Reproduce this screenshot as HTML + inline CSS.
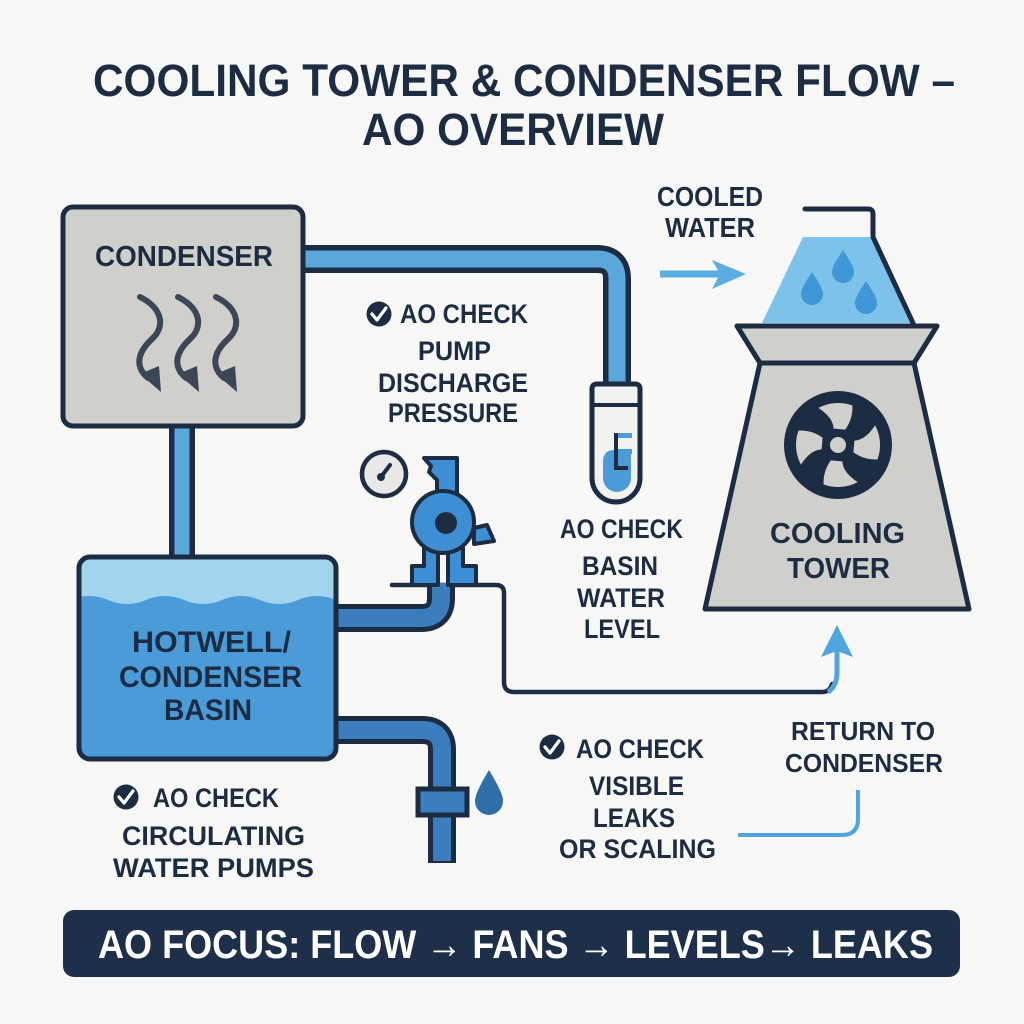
<!DOCTYPE html>
<html>
<head>
<meta charset="utf-8">
<style>
  html,body{margin:0;padding:0;background:#f7f7f5;}
  svg{display:block;}
  text{font-family:"Liberation Sans","DejaVu Sans",sans-serif;font-weight:bold;fill:#1c2d43;}
</style>
</head>
<body>
<svg width="1024" height="1024" viewBox="0 0 1024 1024" xmlns="http://www.w3.org/2000/svg">
  <defs>
    <clipPath id="basinClip"><rect x="80" y="558" width="255" height="200" rx="10"/></clipPath>
  </defs>
  <rect width="1024" height="1024" fill="#f7f7f5"/>

  <!-- Title -->
  <text x="93" y="96" font-size="45" textLength="862" lengthAdjust="spacingAndGlyphs">COOLING TOWER &amp; CONDENSER FLOW –</text>
  <text x="362" y="145" font-size="45" textLength="302" lengthAdjust="spacingAndGlyphs">AO OVERVIEW</text>

  <!-- Upper pipe condenser -> gauge -->
  <path d="M 300 259 H 597 Q 617 259 617 279 V 390" fill="none" stroke="#1c2d43" stroke-width="28"/>
  <path d="M 300 259 H 597 Q 617 259 617 279 V 390" fill="none" stroke="#5aa7dc" stroke-width="17"/>

  <!-- Vertical pipe condenser -> basin -->
  <path d="M 182 420 V 562" fill="none" stroke="#1c2d43" stroke-width="26"/>
  <path d="M 182 420 V 562" fill="none" stroke="#5aa7dc" stroke-width="15"/>

  <!-- Condenser box -->
  <rect x="63" y="207" width="240" height="219" rx="10" fill="#cfcfcc" stroke="#1c2d43" stroke-width="5"/>
  <text x="95" y="266" font-size="29" textLength="178" lengthAdjust="spacingAndGlyphs">CONDENSER</text>
  <!-- squiggle arrows -->
  <g fill="none" stroke="#3b4756" stroke-width="6" stroke-linecap="round">
    <path d="M 140 297 C 162 308 166 326 152 339 C 138 352 134 366 148 378"/>
    <path d="M 178 297 C 200 308 204 326 190 339 C 176 352 172 366 186 378"/>
    <path d="M 216 297 C 238 308 242 326 228 339 C 214 352 210 366 224 378"/>
  </g>
  <g fill="#3b4756">
    <polygon points="140,374 159,366 161,392"/>
    <polygon points="178,374 197,366 199,392"/>
    <polygon points="216,374 235,366 237,392"/>
  </g>

  <!-- Check: pump discharge -->
  <circle cx="379" cy="314" r="12.5" fill="#1c2d43"/>
  <polyline points="372,314 377,320 386,308" fill="none" stroke="#fff" stroke-width="3.2" stroke-linecap="round" stroke-linejoin="round"/>
  <text x="400" y="323" font-size="27" textLength="128" lengthAdjust="spacingAndGlyphs">AO CHECK</text>
  <text x="418" y="360" font-size="27" textLength="73" lengthAdjust="spacingAndGlyphs">PUMP</text>
  <text x="378" y="392" font-size="27" textLength="150" lengthAdjust="spacingAndGlyphs">DISCHARGE</text>
  <text x="388" y="422" font-size="27" textLength="130" lengthAdjust="spacingAndGlyphs">PRESSURE</text>

  <!-- Gauge tube -->
  <path d="M 597 384 H 635 Q 640 384 640 389 V 478 A 24 24 0 0 1 592 478 V 389 Q 592 384 597 384 Z" fill="#f2f2f0" stroke="#1c2d43" stroke-width="5"/>
  <line x1="592" y1="405" x2="640" y2="405" stroke="#1c2d43" stroke-width="4"/>
  <path d="M 603 462 Q 603 450 614 450 L 631 450 L 631 478 A 14 14 0 0 1 603 478 Z" fill="#4a9bd8"/>
  <g fill="#4a9bd8">
    <rect x="617" y="433" width="15" height="5"/>
    <rect x="617" y="449" width="15" height="5"/>
  </g>
  <path d="M 616 433 V 468 H 628" fill="none" stroke="#1c2d43" stroke-width="4"/>

  <!-- Cooled water arrow + label -->
  <text x="657" y="206" font-size="28" textLength="106" lengthAdjust="spacingAndGlyphs">COOLED</text>
  <text x="665" y="237" font-size="28" textLength="90" lengthAdjust="spacingAndGlyphs">WATER</text>
  <line x1="660" y1="274" x2="728" y2="274" stroke="#5aade0" stroke-width="7"/>
  <polygon points="712,260 746,274 712,289 720,274" fill="#5aade0"/>

  <!-- Cooling tower -->
  <polygon points="803,237 873,237 913,323 762,323" fill="#7cc2ea"/>
  <path d="M 805 209 H 868 Q 873 209 873 214 V 237 L 913 323" fill="none" stroke="#1c2d43" stroke-width="5" stroke-linecap="round" stroke-linejoin="round"/>
  <g fill="#3e97d6">
    <path d="M 843 250 C 836 261 832 267 832 272 A 11 11 0 0 0 854 272 C 854 267 850 261 843 250 Z"/>
    <path d="M 812 272 C 805 283 801 289 801 294 A 11 11 0 0 0 823 294 C 823 289 819 283 812 272 Z"/>
    <path d="M 866 281 C 859 292 855 298 855 303 A 11 11 0 0 0 877 303 C 877 298 873 292 866 281 Z"/>
  </g>
  <polygon points="737,326 937,326 914,363 760,363" fill="#cfcfcc" stroke="#1c2d43" stroke-width="5" stroke-linejoin="round"/>
  <polygon points="760,363 914,363 969,609 705,609" fill="#cfcfcc" stroke="#1c2d43" stroke-width="5" stroke-linejoin="round"/>
  <!-- Fan -->
  <circle cx="838" cy="445" r="54" fill="#1c2d43"/>
  <g transform="translate(838 445)" fill="#cfcfcc">
    <path d="M -4.4 -16.4 Q -4.9 -27.6 -19.7 -37.1 A 42 42 0 0 1 14.4 -39.5 Q 15 -26 7.2 -15.4 Z"/>
    <path d="M -4.4 -16.4 Q -4.9 -27.6 -19.7 -37.1 A 42 42 0 0 1 14.4 -39.5 Q 15 -26 7.2 -15.4 Z" transform="rotate(90)"/>
    <path d="M -4.4 -16.4 Q -4.9 -27.6 -19.7 -37.1 A 42 42 0 0 1 14.4 -39.5 Q 15 -26 7.2 -15.4 Z" transform="rotate(180)"/>
    <path d="M -4.4 -16.4 Q -4.9 -27.6 -19.7 -37.1 A 42 42 0 0 1 14.4 -39.5 Q 15 -26 7.2 -15.4 Z" transform="rotate(270)"/>
    <circle cx="0" cy="0" r="11" fill="#cfcfcc" stroke="#1c2d43" stroke-width="6"/>
  </g>
  <text x="770" y="543" font-size="29" textLength="135" lengthAdjust="spacingAndGlyphs">COOLING</text>
  <text x="787" y="578" font-size="29" textLength="103" lengthAdjust="spacingAndGlyphs">TOWER</text>

  <!-- Basin level check text -->
  <text x="560" y="538" font-size="27" textLength="123" lengthAdjust="spacingAndGlyphs">AO CHECK</text>
  <text x="582" y="575" font-size="27" textLength="76" lengthAdjust="spacingAndGlyphs">BASIN</text>
  <text x="577" y="607" font-size="27" textLength="88" lengthAdjust="spacingAndGlyphs">WATER</text>
  <text x="584" y="638" font-size="27" textLength="76" lengthAdjust="spacingAndGlyphs">LEVEL</text>

  <!-- Navy return line from pump base to tower -->
  <path d="M 392 585 H 496 Q 504 585 504 593 V 682 Q 504 692 514 692 H 822 Q 830 692 832 684" fill="none" stroke="#1c2d43" stroke-width="4.5" stroke-linecap="round"/>
  <path d="M 828 692 Q 837 686 837 672 V 650" fill="none" stroke="#4fa5dd" stroke-width="5"/>
  <polygon points="821,657 837,625 853,657 837,651" fill="#4fa5dd"/>

  <!-- Pipe basin -> pump -->
  <path d="M 330 618 H 421 Q 441 618 441 598 V 583" fill="none" stroke="#1c2d43" stroke-width="28"/>
  <path d="M 330 618 H 421 Q 441 618 441 598 V 583" fill="none" stroke="#3c7ebd" stroke-width="18"/>

  <!-- Lower pipe basin -> drain -->
  <path d="M 330 730 H 422 Q 442 730 442 750 V 863" fill="none" stroke="#1c2d43" stroke-width="28"/>
  <path d="M 330 730 H 422 Q 442 730 442 750 V 861" fill="none" stroke="#3c7ebd" stroke-width="18"/>
  <rect x="418" y="789" width="49" height="26" fill="#3c7ebd" stroke="#1c2d43" stroke-width="5"/>
  <path d="M 489 770 C 480 785 475 795 475 801 A 14 14 0 0 0 503 801 C 503 795 498 785 489 770 Z" fill="#2f6ea8"/>

  <!-- Basin -->
  <g clip-path="url(#basinClip)">
    <rect x="78" y="556" width="260" height="205" fill="#a3d4ee"/>
    <path d="M 70 600 q 19 -8 38 0 t 38 0 t 38 0 t 38 0 t 38 0 t 38 0 t 38 0 t 38 0 V 770 H 70 Z" fill="#4b9bd8"/>
  </g>
  <rect x="79" y="557" width="257" height="202" rx="11" fill="none" stroke="#1c2d43" stroke-width="5"/>
  <text x="132" y="652" font-size="30" textLength="159" lengthAdjust="spacingAndGlyphs">HOTWELL/</text>
  <text x="119" y="687" font-size="30" textLength="183" lengthAdjust="spacingAndGlyphs">CONDENSER</text>
  <text x="164" y="720" font-size="30" textLength="88" lengthAdjust="spacingAndGlyphs">BASIN</text>

  <!-- Pump -->
  <circle cx="384" cy="474" r="22" fill="#e8e8e6" stroke="#1c2d43" stroke-width="4.5"/>
  <line x1="381" y1="477" x2="390" y2="465" stroke="#1c2d43" stroke-width="4" stroke-linecap="round"/>
  <circle cx="381" cy="477" r="4" fill="#1c2d43"/>
  <g fill="#3d8ed3" stroke="#1c2d43" stroke-width="4" stroke-linejoin="round">
    <polygon points="424,458 457,458 457,494 437,494 437,480 429,472 431,466"/>
    <polygon points="474,528 487,525 494,541 474,544"/>
    <polygon points="424,548 438,548 438,585 412,585 412,566 424,566"/>
    <polygon points="448,548 463,548 463,566 476,566 476,585 448,585"/>
    <circle cx="443" cy="522" r="31"/>
  </g>
  <circle cx="446" cy="523" r="11" fill="#1c2d43"/>

  <!-- Circulating pumps check -->
  <circle cx="126" cy="797" r="12.5" fill="#1c2d43"/>
  <polyline points="119,797 124,803 133,791" fill="none" stroke="#fff" stroke-width="3.2" stroke-linecap="round" stroke-linejoin="round"/>
  <text x="153" y="807" font-size="27" textLength="126" lengthAdjust="spacingAndGlyphs">AO CHECK</text>
  <text x="122" y="845" font-size="27" textLength="183" lengthAdjust="spacingAndGlyphs">CIRCULATING</text>
  <text x="113" y="877" font-size="27" textLength="201" lengthAdjust="spacingAndGlyphs">WATER PUMPS</text>

  <!-- Visible leaks check -->
  <circle cx="552" cy="747" r="12.5" fill="#1c2d43"/>
  <polyline points="545,747 550,753 559,741" fill="none" stroke="#fff" stroke-width="3.2" stroke-linecap="round" stroke-linejoin="round"/>
  <text x="576" y="758" font-size="27" textLength="128" lengthAdjust="spacingAndGlyphs">AO CHECK</text>
  <text x="589" y="795" font-size="27" textLength="95" lengthAdjust="spacingAndGlyphs">VISIBLE</text>
  <text x="593" y="827" font-size="27" textLength="82" lengthAdjust="spacingAndGlyphs">LEAKS</text>
  <text x="559" y="858" font-size="27" textLength="157" lengthAdjust="spacingAndGlyphs">OR SCALING</text>

  <!-- Return to condenser -->
  <text x="791" y="740" font-size="26" textLength="144" lengthAdjust="spacingAndGlyphs">RETURN TO</text>
  <text x="785" y="772" font-size="26" textLength="158" lengthAdjust="spacingAndGlyphs">CONDENSER</text>
  <path d="M 738 835 H 842 Q 858 835 858 819 V 790" fill="none" stroke="#4fa5dd" stroke-width="4"/>

  <!-- Bottom banner -->
  <rect x="63" y="910" width="897" height="67" rx="11" fill="#1e3049"/>
  <text x="98" y="958" font-size="40" textLength="835" lengthAdjust="spacingAndGlyphs" style="fill:#ffffff">AO FOCUS: FLOW → FANS → LEVELS→ LEAKS</text>
</svg>
</body>
</html>
